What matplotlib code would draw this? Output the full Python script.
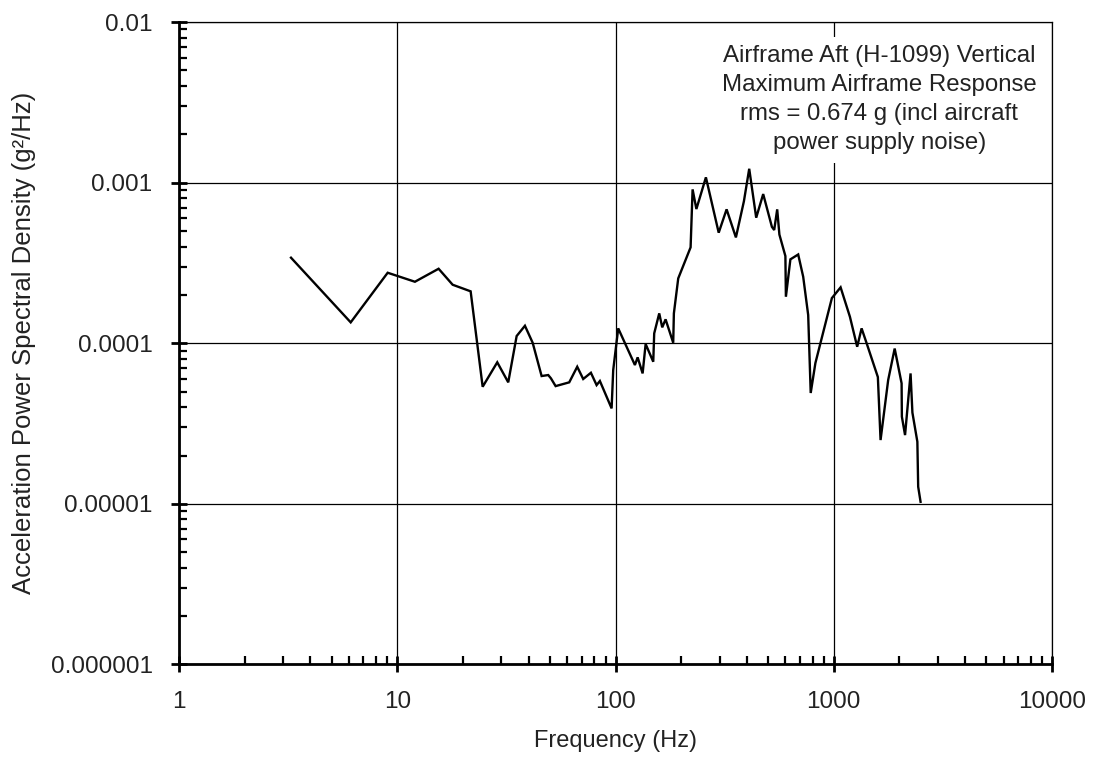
import matplotlib
matplotlib.use("Agg")
import matplotlib.pyplot as plt
from matplotlib.ticker import FixedLocator, LogLocator, NullFormatter, FuncFormatter

plt.rcParams["font.family"] = ["Liberation Sans", "DejaVu Sans"]

# Frequency (Hz) and acceleration PSD (g^2/Hz)
freq_hz = [
    3.26, 6.12, 9.04, 12.05, 15.47, 17.94, 21.69, 24.62, 28.72, 32.25,
    35.24, 38.46, 41.73, 45.86, 49.17, 50.59, 53.16, 61.37, 66.77, 71.12,
    77.14, 81.91, 84.81, 95.96, 97.6, 102.9, 122.7, 126.3, 133.1, 137.4,
    148.9, 150.4, 158.6, 163.7, 169.6, 183.8, 185.1, 193.8, 220.8, 225.5,
    234.7, 259.5, 297.0, 322.8, 356.1, 387.5, 409.8, 441.1, 474.9, 520.5,
    533.3, 550.5, 563.4, 600.2, 603.4, 632.7, 687.0, 724.2, 763.4, 783.9,
    823.7, 980.2, 1074.6, 1185.6, 1280.0, 1341.0, 1418.0, 1592.0, 1638.0, 1775.0,
    1901.0, 2045.0, 2051.0, 2121.0, 2248.0, 2292.0, 2415.0, 2436.0, 2498.0,
]
psd_g2hz = [
    3.41e-4, 1.349e-4, 2.748e-4, 2.415e-4, 2.910e-4, 2.314e-4, 2.105e-4, 5.36e-5, 7.61e-5, 5.71e-5,
    1.109e-4, 1.285e-4, 1.007e-4, 6.25e-5, 6.34e-5, 6.05e-5, 5.41e-5, 5.71e-5, 7.14e-5, 5.99e-5,
    6.55e-5, 5.49e-5, 5.82e-5, 3.93e-5, 6.81e-5, 1.238e-4, 7.32e-5, 8.17e-5, 6.49e-5, 9.89e-5,
    7.67e-5, 1.152e-4, 1.535e-4, 1.256e-4, 1.409e-4, 1.007e-4, 1.535e-4, 2.535e-4, 3.955e-4, 9.08e-4,
    6.85e-4, 1.079e-3, 4.88e-4, 6.82e-4, 4.56e-4, 7.66e-4, 1.22e-3, 6.05e-4, 8.49e-4, 5.31e-4,
    5.07e-4, 6.82e-4, 4.75e-4, 3.49e-4, 1.948e-4, 3.33e-4, 3.57e-4, 2.595e-4, 1.498e-4, 4.90e-5,
    7.53e-5, 1.911e-4, 2.229e-4, 1.462e-4, 9.51e-5, 1.238e-4, 9.89e-5, 6.16e-5, 2.496e-5, 5.90e-5,
    9.27e-5, 5.63e-5, 3.49e-5, 2.68e-5, 6.49e-5, 3.70e-5, 2.436e-5, 1.278e-5, 1.03e-5,
]

x_ticks = [1, 10, 100, 1000, 10000]
x_tick_labels = ["1", "10", "100", "1000", "10000"]
y_ticks = [1e-6, 1e-5, 1e-4, 1e-3, 1e-2]
y_tick_labels = ["0.000001", "0.00001", "0.0001", "0.001", "0.01"]

note = ("Airframe Aft (H-1099) Vertical\n"
        "Maximum Airframe Response\n"
        "rms = 0.674 g (incl aircraft\n"
        "power supply noise)")

fig = plt.figure(figsize=(10.96, 7.65), dpi=100)
ax = fig.add_axes([0.1633, 0.1314, 0.7966, 0.8398])

ax.plot(freq_hz, psd_g2hz, color="black", linewidth=1.7, solid_joinstyle="miter")

ax.set_xscale("log")
ax.set_yscale("log")
ax.set_xlim(1, 10000)
ax.set_ylim(1e-6, 1e-2)

ax.xaxis.set_major_locator(FixedLocator(x_ticks))
ax.xaxis.set_major_formatter(FuncFormatter(
    lambda v, p: next((l for t, l in zip(x_ticks, x_tick_labels) if abs(v / t - 1) < 1e-6), "")))
ax.yaxis.set_major_locator(FixedLocator(y_ticks))
ax.yaxis.set_major_formatter(FuncFormatter(
    lambda v, p: next((l for t, l in zip(y_ticks, y_tick_labels) if abs(v / t - 1) < 1e-6), "")))
ax.xaxis.set_minor_locator(LogLocator(base=10, subs=range(2, 10), numticks=20))
ax.yaxis.set_minor_locator(LogLocator(base=10, subs=range(2, 10), numticks=20))
ax.xaxis.set_minor_formatter(NullFormatter())
ax.yaxis.set_minor_formatter(NullFormatter())

ax.grid(True, which="major", color="black", linewidth=0.9)
ax.set_axisbelow(True)

for side in ("left", "bottom"):
    ax.spines[side].set_linewidth(2.0)
for side in ("top", "right"):
    ax.spines[side].set_linewidth(0.9)

ax.tick_params(which="major", direction="inout", length=12, width=2.0, labelsize=17.5,
               colors="black", labelcolor="#222222")
ax.tick_params(axis="x", which="major", pad=13)
ax.tick_params(axis="y", which="major", pad=13)
ax.tick_params(which="minor", direction="in", length=6, width=1.6)
ax.tick_params(top=False, right=False, which="both")

ax.set_xlabel("Frequency (Hz)", fontsize=17, color="#222222", va="center")
ax.xaxis.set_label_coords(0.5, -0.1195)
ax.set_ylabel("Acceleration Power Spectral Density (g²/Hz)", fontsize=18.5,
              color="#222222", va="center")
ax.yaxis.set_label_coords(-0.178, 0.5)

ax.text(0.802, 0.879, note, transform=ax.transAxes, ha="center", va="center",
        multialignment="center", fontsize=17.3, linespacing=1.42, color="#222222",
        bbox=dict(facecolor="white", edgecolor="none", pad=6))

fig.savefig("out.png", dpi=100)
